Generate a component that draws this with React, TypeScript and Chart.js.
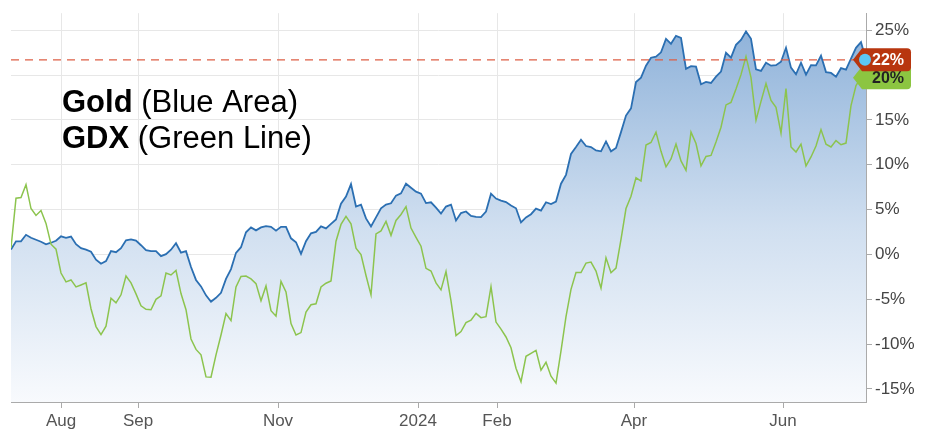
import React, { useEffect, useRef } from "react";
import { Chart, registerables } from "chart.js";

Chart.register(...registerables);

// Percent change since start, sampled at regular trading-day intervals
const goldValues = [
  0.55, 1.47, 1.47, 2.19, 1.86, 1.64, 1.42, 1.14, 1.31, 1.53,
  2.02, 1.86, 1.99, 1.14, 0.70, 0.53, 0.31, -0.58, -1.04, -0.74,
  0.37, 0.25, 0.70, 1.58, 1.69, 1.55, 1.03, 0.48, 0.37, 0.37,
  -0.19, 0.03, 0.53, 1.25, 0.20, 0.37, -1.40, -2.84, -3.56, -4.56,
  -5.27, -4.83, -4.28, -2.73, -1.63, 0.18, 0.81, 2.47, 3.02, 2.69,
  3.02, 3.16, 3.08, 2.65, 3.08, 3.08, 1.80, 1.36, 0.07, 1.47,
  2.36, 2.52, 3.13, 2.91, 3.41, 3.90, 5.67, 6.45, 7.85, 5.34,
  5.56, 4.02, 3.13, 4.13, 5.15, 5.56, 5.71, 6.56, 6.81, 7.89,
  7.44, 7.00, 6.78, 5.73, 5.82, 5.23, 4.57, 5.34, 5.56, 3.79,
  4.62, 4.79, 4.29, 4.20, 4.16, 4.79, 6.78, 6.23, 6.01, 5.84,
  5.45, 5.15, 3.57, 4.13, 4.49, 5.12, 4.90, 5.82, 5.62, 5.90,
  7.89, 8.88, 11.21, 11.98, 12.79, 12.09, 11.98, 11.59, 11.50, 12.6,
  11.50, 11.87, 13.64, 15.49, 16.29, 19.23, 19.72, 21.05, 21.94, 22.05,
  22.54, 24.04, 23.49, 24.37, 24.15, 20.69, 21.00, 20.94, 18.98, 19.23,
  19.12, 19.83, 20.39, 22.49, 21.94, 23.37, 23.93, 24.87, 24.04, 20.64,
  20.46, 21.38, 21.05, 21.11, 21.49, 23.04, 20.83, 20.09, 21.38, 20.05,
  21.11, 21.08, 22.16, 20.33, 20.24, 19.83, 20.77, 20.61, 21.83, 23.04,
  23.67, 21.7,
];

const gdxValues = [
  0.73, 6.28, 6.34, 7.78, 5.12, 4.35, 4.90, 3.46, 1.14, 0.59,
  -2.07, -3.06, -2.84, -3.62, -3.40, -3.17, -6.05, -8.04, -8.93, -7.99,
  -4.87, -5.39, -4.50, -2.40, -3.17, -4.39, -5.72, -6.11, -6.16, -5.00,
  -4.61, -2.07, -2.29, -1.79, -4.36, -6.16, -9.42, -10.59, -11.19, -13.65,
  -13.68, -11.19, -8.98, -6.60, -7.38, -3.62, -2.46, -2.40, -2.73, -3.25,
  -5.17, -3.51, -6.27, -6.88, -3.0, -4.17, -7.71, -8.98, -8.71, -6.42,
  -5.61, -5.50, -3.62, -3.21, -2.95, 1.47, 3.35, 4.24, 3.41, 0.70,
  -0.02, -2.35, -4.50, 2.30, 2.63, 3.68, 2.13, 3.79, 4.46, 5.34,
  2.94, 1.91, 0.92, -1.55, -1.85, -3.17, -3.95, -1.9, -5.17, -9.04,
  -8.60, -7.60, -7.32, -6.57, -7.05, -6.94, -3.6, -7.54, -8.32, -9.20,
  -10.40, -12.69, -14.18, -11.36, -11.03, -10.70, -12.89, -12.02, -13.57, -14.35,
  -10.75, -6.94, -3.89, -2.01, -2.01, -0.96, -0.85, -1.85, -3.76, -0.38,
  -2.04, -1.52, 1.69, 5.12, 6.50, 8.55, 8.19, 12.20, 12.48, 13.64,
  11.50, 9.77, 10.65, 12.31, 10.43, 9.38, 13.64, 12.37, 9.88, 10.93,
  11.04, 12.53, 14.19, 16.67, 16.96, 18.45, 20.05, 22.08, 19.72, 14.97,
  17.07, 19.06, 17.18, 16.40, 13.53, 18.5, 11.98, 11.43, 12.31, 9.88,
  10.87, 12.09, 13.92, 12.29, 11.98, 12.70, 12.23, 12.42, 16.59, 18.84,
  19.72, 20.05,
];

// Month boundaries, expressed as sample index
const monthTickIndex = [10, 25.4, 53.4, 81.4, 97.2, 124.6, 154.4];
const monthTickLabels = ["Aug", "Sep", "Nov", "2024", "Feb", "Apr", "Jun"];
const yTickValues = [-15, -10, -5, 0, 5, 10, 15, 20, 25];
const yRange = [-16.45, 26.9];
const legendBold = ["Gold", "GDX"];
const legendRest = [" (Blue Area)", " (Green Line)"];

const FONT = '"Liberation Sans", Arial, sans-serif';

function drawBadge(ctx: CanvasRenderingContext2D, tipX: number, cy: number, color: string, text: string, textColor: string) {
  const h = 23;
  const bodyX = tipX + 9;
  const w = 49;
  const r = 4;
  const top = cy - h / 2;
  ctx.beginPath();
  ctx.moveTo(tipX, cy);
  ctx.lineTo(bodyX, top);
  ctx.lineTo(bodyX + w - r, top);
  ctx.quadraticCurveTo(bodyX + w, top, bodyX + w, top + r);
  ctx.lineTo(bodyX + w, top + h - r);
  ctx.quadraticCurveTo(bodyX + w, top + h, bodyX + w - r, top + h);
  ctx.lineTo(bodyX, top + h);
  ctx.closePath();
  ctx.fillStyle = color;
  ctx.fill();
  ctx.fillStyle = textColor;
  ctx.font = `bold 16px ${FONT}`;
  ctx.textAlign = "left";
  ctx.textBaseline = "middle";
  ctx.fillText(text, tipX + 19, cy + 1);
}

const overlayPlugin = {
  id: "overlay",
  afterDatasetsDraw(chart: any) {
    const { ctx, chartArea, scales } = chart;
    const lastGold = goldValues[goldValues.length - 1];
    const yG = scales.y.getPixelForValue(lastGold);
    ctx.save();
    ctx.setLineDash([8, 6]);
    ctx.strokeStyle = "#dd5f45";
    ctx.lineWidth = 1.3;
    ctx.beginPath();
    ctx.moveTo(chartArea.left, yG);
    ctx.lineTo(chartArea.right, yG);
    ctx.stroke();
    ctx.setLineDash([]);

    // legend text
    ctx.fillStyle = "#000";
    ctx.textAlign = "left";
    ctx.textBaseline = "alphabetic";
    const baselines = [111.5, 148];
    for (let i = 0; i < legendBold.length; i++) {
      ctx.font = `bold 31px ${FONT}`;
      ctx.fillText(legendBold[i], 62, baselines[i]);
      const w = ctx.measureText(legendBold[i]).width;
      ctx.font = `31px ${FONT}`;
      ctx.fillText(legendRest[i], 62 + w, baselines[i]);
    }
    ctx.restore();
  },
  afterDraw(chart: any) {
    const { ctx, chartArea, scales } = chart;
    const lastGold = goldValues[goldValues.length - 1];
    const lastGdx = gdxValues[gdxValues.length - 1];
    const yG = scales.y.getPixelForValue(lastGold);
    const yX = scales.y.getPixelForValue(lastGdx);
    ctx.save();
    drawBadge(ctx, chartArea.right - 13, yX + 3, "#8cc541", `${Math.round(lastGdx)}%`, "#222");
    drawBadge(ctx, chartArea.right - 13, yG, "#b8360f", `${Math.round(lastGold)}%`, "#fff");
    ctx.beginPath();
    ctx.arc(chartArea.right - 1, yG, 6, 0, Math.PI * 2);
    ctx.fillStyle = "#5cc6f4";
    ctx.fill();
    ctx.restore();
  },
};

export default function App() {
  const canvasRef = useRef<HTMLCanvasElement | null>(null);

  useEffect(() => {
    const canvas = canvasRef.current;
    if (!canvas) return;
    const labels = goldValues.map((_, i) => i);
    const chart = new Chart(canvas, {
      type: "line",
      data: {
        labels,
        datasets: [
          {
            label: "GDX",
            data: gdxValues.map((v, i) => ({ x: i, y: v })),
            borderColor: "#8cc44e",
            borderWidth: 1.5,
            pointRadius: 0,
            tension: 0,
            fill: false,
          },
          {
            label: "Gold",
            data: goldValues.map((v, i) => ({ x: i, y: v })),
            borderColor: "#2b6fb2",
            borderWidth: 1.8,
            pointRadius: 0,
            tension: 0,
            fill: "start",
            backgroundColor: (c: any) => {
              const area = c.chart.chartArea;
              if (!area) return "rgba(0,0,0,0)";
              const g = c.chart.ctx.createLinearGradient(0, area.top, 0, area.bottom);
              g.addColorStop(0, "#8aafd8");
              g.addColorStop(0.55, "#d0dff0");
              g.addColorStop(1, "#f8fafd");
              return g;
            },
          },
        ],
      },
      options: {
        animation: false,
        responsive: true,
        maintainAspectRatio: false,
        layout: { padding: { left: 11, top: 10, right: 0, bottom: 0 } },
        plugins: { legend: { display: false }, tooltip: { enabled: false } },
        scales: {
          x: {
            type: "linear",
            min: 0,
            max: goldValues.length - 1,
            afterBuildTicks: (s: any) => {
              s.ticks = monthTickIndex.map((v) => ({ value: v }));
            },
            afterFit: (s: any) => {
              s.height = 41;
            },
            ticks: {
              autoSkip: false,
              maxRotation: 0,
              padding: 3,
              color: "#555",
              font: { family: FONT, size: 17 },
              callback: (_v: any, i: number) => monthTickLabels[i],
            },
            grid: { color: "#e7e7e7", tickColor: "#aaa", tickLength: 6 },
            border: { color: "#aaa" },
          },
          y: {
            position: "right",
            min: yRange[0],
            max: yRange[1],
            afterBuildTicks: (s: any) => {
              s.ticks = yTickValues.map((v) => ({ value: v }));
            },
            afterFit: (s: any) => {
              s.width = 66;
            },
            ticks: {
              padding: 3,
              color: "#444",
              font: { family: FONT, size: 17 },
              callback: (v: any) => `${v}%`,
            },
            grid: { color: "#e7e7e7", tickColor: "#aaa", tickLength: 6 },
            border: { color: "#aaa" },
          },
        },
      },
      plugins: [overlayPlugin],
    } as any);
    return () => chart.destroy();
  }, []);

  return (
    <div style={{ position: "absolute", left: 0, top: 0, width: 932, height: 443, background: "#fff" }}>
      <canvas ref={canvasRef} style={{ display: "block" }} />
    </div>
  );
}
